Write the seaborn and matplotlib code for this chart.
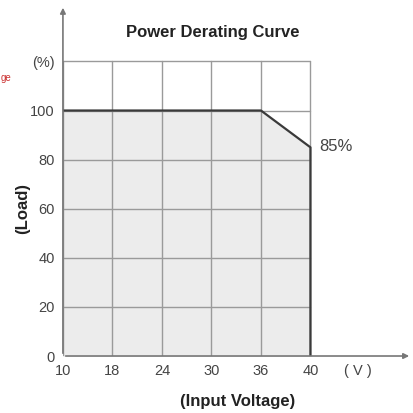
import numpy as np
import matplotlib
matplotlib.use("Agg")
import matplotlib.pyplot as plt
import seaborn as sns

# Power derating curve data
voltage_ticks = [10, 18, 24, 30, 36, 40]
load_ticks = [0, 20, 40, 60, 80, 100]
curve_voltage = [10, 36, 40, 40]
curve_load = [100, 100, 85, 0]
derate_label = "85%"

sns.set_theme(style="white")
plt.rcParams["font.family"] = ["Liberation Sans", "DejaVu Sans"]

GRID = "#9a9a9a"
TEXT = "#444444"

# uneven voltage ticks are drawn equally spaced, so map through the tick index
tick_pos = np.arange(len(voltage_ticks))
curve_x = np.interp(curve_voltage, voltage_ticks, tick_pos)

fig = plt.figure(figsize=(4.14, 4.13), dpi=100)
ax = fig.add_axes([0.152, 0.138, 0.843, 0.85])
ax.set_xlim(0, 7.05)
ax.set_ylim(0, 143)

ax.fill_between(curve_x, curve_load, 0, color="#ececec", zorder=1)

# grid: one row above 100 for the (%) label
grid_top = load_ticks[-1] + 20
for x in tick_pos:
    ax.plot([x, x], [0, grid_top], color=GRID, lw=1.0, zorder=2)
for y in load_ticks[1:] + [grid_top]:
    ax.plot([tick_pos[0], tick_pos[-1]], [y, y], color=GRID, lw=1.0, zorder=2)

sns.lineplot(x=curve_x, y=curve_load, sort=False, estimator=None,
             color="#3a3a3a", lw=1.6, ax=ax, zorder=3)

ax.text(curve_x[2] + 0.17, curve_load[2] + 0.5, derate_label, fontsize=12,
        color=TEXT, va="center", ha="left")

# axes with arrow heads
for s in ax.spines.values():
    s.set_visible(False)
ax.annotate("", xy=(7.05, 0), xytext=(0, 0),
            arrowprops=dict(arrowstyle="-|>", color="#777777", lw=1.2,
                            mutation_scale=8), annotation_clip=False)
ax.annotate("", xy=(0, 143), xytext=(0, 0),
            arrowprops=dict(arrowstyle="-|>", color="#777777", lw=1.2,
                            mutation_scale=8), annotation_clip=False)

ax.set_xticks(list(tick_pos) + [5.95])
ax.set_xticklabels([str(v) for v in voltage_ticks] + ["( V )"])
ax.set_yticks(load_ticks + [grid_top])
ax.set_yticklabels([str(v) for v in load_ticks] + ["(%)"])
ax.tick_params(axis="both", length=0, labelsize=10.5, labelcolor=TEXT)
ax.tick_params(axis="x", pad=6)
ax.tick_params(axis="y", pad=6)

ax.set_title("Power Derating Curve", fontsize=12, fontweight="bold",
             color="#222222", x=0.43, y=0.885)
ax.set_xlabel("(Input Voltage)", fontsize=12, fontweight="bold",
              color="#222222", labelpad=11)
fig.text(0.055, 0.495, "(Load)", rotation=90, fontsize=12, fontweight="bold",
         color="#222222", ha="center", va="center")

# red note fragment at the left edge
fig.text(0.002, 0.812, "ge", fontsize=7, color="#cc3333", ha="left",
         va="center")

fig.savefig("out.png", dpi=100)
